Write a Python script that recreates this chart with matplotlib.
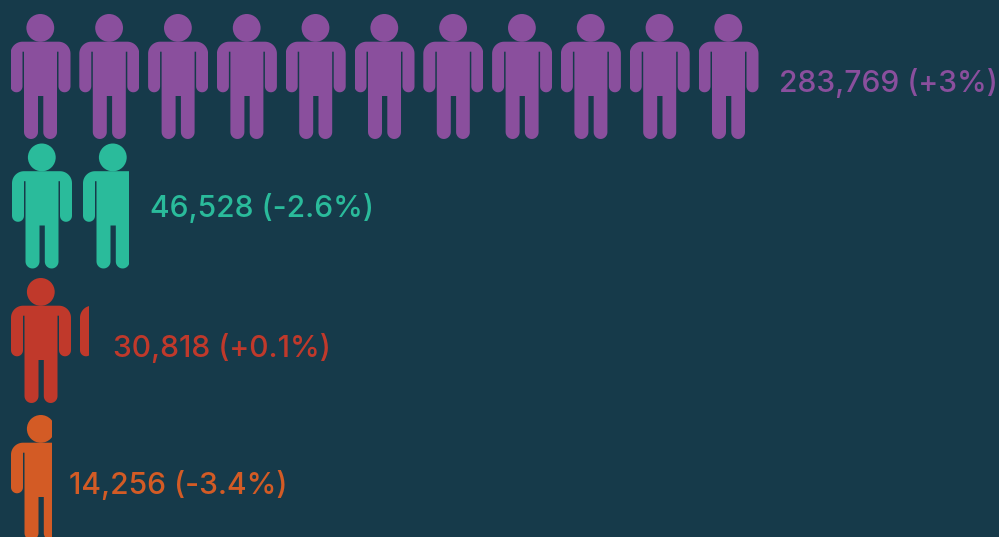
import matplotlib
matplotlib.use('Agg')
import matplotlib.pyplot as plt
from matplotlib.path import Path
from matplotlib.patches import PathPatch, Circle, Rectangle
import numpy as np

# --- DATA ---
labels = ['283,769 (+3%)', '46,528 (-2.6%)', '30,818 (+0.1%)', '14,256 (-3.4%)']
icon_counts = [11, 1.77, 1.15, 0.69]   # read from the clipped icons
colors = ['#8A4F9D', '#2ABB9B', '#C0392B', '#D35B25']
bg = '#163A4A'

# --- LAYOUT (pixels) ---
row_x = [10.5, 12, 11, 11]
row_y = [14, 143.5, 278, 415]
pitch = [68.8, 71, 69, 69]
label_x = [779, 150, 113, 69]
label_y = [92, 217, 357, 494]  # baselines
icon_w = 60


def arc(cx, cy, r, a0, a1):
    # points on a circle, angles in degrees, y pointing down
    t = np.radians(np.linspace(a0, a1, 16))
    return np.column_stack([cx + r * np.cos(t), cy + r * np.sin(t)])


def body_path():
    # one person's body, x/y in px from left edge / top of head
    top, gap_top, arm_end, crotch, foot = 27.7, 37.7, 78.3, 82, 125
    parts = [
        arc(12, top + 12, 12, 180, 270),          # left shoulder
        arc(48, top + 12, 12, 270, 360),          # right shoulder
        arc(54, arm_end - 6, 6, 0, 180),          # right hand
        [(48, gap_top), (46.5, gap_top)],
        arc(39.65, foot - 6.85, 6.85, 0, 180),    # right foot
        [(32.8, crotch), (27.5, crotch)],
        arc(20.5, foot - 7, 7, 0, 180),           # left foot
        [(13.5, gap_top), (12, gap_top)],
        arc(6, arm_end - 6, 6, 0, 180),           # left hand
    ]
    return np.vstack(parts)


fig = plt.figure(figsize=(9.99, 5.37), dpi=100, facecolor=bg)
ax = fig.add_axes([0, 0, 1, 1])
ax.set_xlim(0, 999)
ax.set_ylim(537, 0)
ax.axis('off')

verts = body_path()
for i in range(len(labels)):
    n = icon_counts[i]
    k = 0
    while k < n:
        x0 = row_x[i] + k * pitch[i]
        y0 = row_y[i]
        # partial icons get cut off at the right
        clip = Rectangle((x0, y0 - 1), icon_w * min(n - k, 1), 130, transform=ax.transData)
        head = Circle((x0 + 29.8, y0 + 13.9), 13.9, fc=colors[i], ec='none')
        body = PathPatch(Path(np.vstack([verts, verts[:1]]) + [x0, y0], closed=True),
                         fc=colors[i], ec='none')
        for p in (head, body):
            ax.add_patch(p)
            p.set_clip_path(clip)
        k += 1
    ax.text(label_x[i], label_y[i], labels[i], color=colors[i], fontsize=21.6,
            family='Inter', weight='medium', va='baseline', ha='left')

fig.savefig('out.png', dpi=100, facecolor=bg)
